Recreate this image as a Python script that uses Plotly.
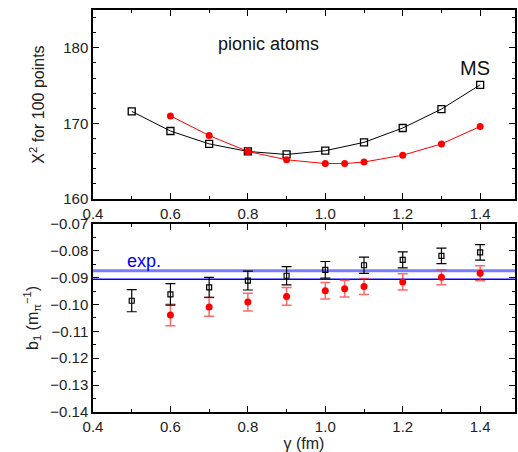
import plotly.graph_objects as go
from plotly.subplots import make_subplots

# ---- data ----
gamma_ms = [0.5, 0.6, 0.7, 0.8, 0.9, 1.0, 1.1, 1.2, 1.3, 1.4]
chi2_ms = [171.6, 169.0, 167.3, 166.3, 165.9, 166.4, 167.5, 169.4, 171.9, 175.1]
b1_ms = [-0.0986, -0.0962, -0.0936, -0.0911, -0.0893, -0.0871, -0.0854, -0.0834, -0.0819, -0.0806]
b1_ms_err = [0.0041, 0.0040, 0.0037, 0.0035, 0.0034, 0.0031, 0.0030, 0.0030, 0.0029, 0.0029]

gamma_red = [0.6, 0.7, 0.8, 0.9, 1.0, 1.05, 1.1, 1.2, 1.3, 1.4]
chi2_red = [171.0, 168.4, 166.3, 165.2, 164.7, 164.7, 164.9, 165.8, 167.3, 169.6]
b1_red = [-0.1039, -0.1009, -0.0991, -0.0970, -0.0949, -0.0941, -0.0933, -0.0916, -0.0899, -0.0884]
b1_red_err = [0.0040, 0.0035, 0.0033, 0.0033, 0.0031, 0.0031, 0.0030, 0.0030, 0.0028, 0.0028]

exp_upper = -0.0874
exp_lower = -0.0906
x_range = [0.4, 1.49]

FONT = "Liberation Sans, Arial, sans-serif"

fig = make_subplots(rows=2, cols=1)

# top panel
fig.add_trace(go.Scatter(x=gamma_ms, y=chi2_ms, mode="lines+markers",
                         line=dict(color="black", width=1),
                         marker=dict(symbol="square-open", size=7, color="black",
                                     line=dict(width=1.3, color="black")),
                         showlegend=False), row=1, col=1)
fig.add_trace(go.Scatter(x=gamma_red, y=chi2_red, mode="lines+markers",
                         line=dict(color="red", width=1),
                         marker=dict(symbol="circle", size=7, color="red"),
                         showlegend=False), row=1, col=1)

# bottom panel: exp lines
fig.add_trace(go.Scatter(x=x_range, y=[exp_upper, exp_upper], mode="lines",
                         line=dict(color="rgba(100,100,255,0.85)", width=3),
                         showlegend=False), row=2, col=1)
fig.add_trace(go.Scatter(x=x_range, y=[exp_lower, exp_lower], mode="lines",
                         line=dict(color="blue", width=1.5),
                         showlegend=False), row=2, col=1)

fig.add_trace(go.Scatter(x=gamma_red, y=b1_red, mode="markers",
                         marker=dict(symbol="circle", size=7, color="red"),
                         error_y=dict(type="data", array=b1_red_err, color="rgba(255,40,40,0.7)",
                                      thickness=1.5, width=5),
                         showlegend=False), row=2, col=1)
fig.add_trace(go.Scatter(x=gamma_ms, y=b1_ms, mode="markers",
                         marker=dict(symbol="square-open", size=5, color="black",
                                     line=dict(width=1.2, color="black")),
                         error_y=dict(type="data", array=b1_ms_err, color="black",
                                      thickness=1.2, width=5),
                         showlegend=False), row=2, col=1)

axis_common = dict(showline=True, linecolor="black", linewidth=1.5, mirror="allticks",
                   ticks="inside", ticklen=6, tickwidth=1, tickcolor="black",
                   showgrid=False, zeroline=False,
                   tickfont=dict(family=FONT, size=15, color="#222"))

fig.update_xaxes(range=x_range, dtick=0.2, tick0=0.4, tickformat=".1f",
                 minor=dict(dtick=0.1, ticks="inside", ticklen=3, tickcolor="black"),
                 **axis_common)
fig.update_xaxes(title=dict(text="γ (fm)", font=dict(family=FONT, size=16, color="#222"),
                            standoff=0), row=2, col=1)

fig.update_yaxes(range=[160, 185], dtick=10, tick0=160,
                 minor=dict(dtick=2, ticks="inside", ticklen=3, tickcolor="black"),
                 title=dict(text="X<sup>2</sup> for 100 points",
                            font=dict(family=FONT, size=16, color="#222"), standoff=15),
                 row=1, col=1, **axis_common)
fig.update_yaxes(range=[-0.14, -0.07], dtick=0.01, tick0=-0.14, tickformat=".2f",
                 minor=dict(dtick=0.005, ticks="inside", ticklen=3, tickcolor="black"),
                 title=dict(text="b<sub>1</sub> (m<sub>π</sub><sup>−1</sup>)",
                            font=dict(family=FONT, size=16, color="#222"), standoff=8),
                 row=2, col=1, **axis_common)

fig.update_layout(
    xaxis=dict(domain=[0, 1]), xaxis2=dict(domain=[0, 1]),
    yaxis=dict(domain=[0.5296, 1.0]), yaxis2=dict(domain=[0.0, 0.468]),
)

fig.add_annotation(x=0.854, y=180.5, xref="x", yref="y", text="pionic atoms",
                   showarrow=False, font=dict(family=FONT, size=18, color="#111"))
fig.add_annotation(x=1.387, y=177.3, xref="x", yref="y", text="MS",
                   showarrow=False, font=dict(family=FONT, size=20, color="#111"))
fig.add_annotation(x=0.533, y=-0.0839, xref="x2", yref="y2", text="exp.",
                   showarrow=False, font=dict(family=FONT, size=18, color="blue"))

fig.update_layout(width=518, height=452,
                  margin=dict(l=93, r=1, t=6, b=40),
                  plot_bgcolor="white", paper_bgcolor="white",
                  font=dict(family=FONT))

fig.write_html("out.html", config={"displayModeBar": False},
               post_script="document.body.style.margin='0';document.body.style.overflow='hidden';")
